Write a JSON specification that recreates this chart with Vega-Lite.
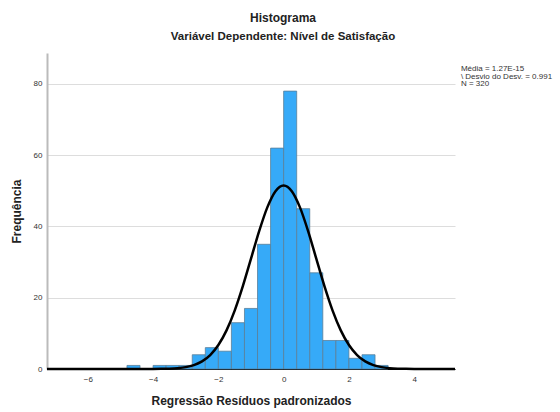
{
  "$schema": "https://vega.github.io/schema/vega-lite/v6.json",
  "width": 408,
  "height": 316,
  "autosize": {"type": "none"},
  "padding": {"left": 47, "top": 53, "right": 105, "bottom": 43},
  "background": "white",
  "title": {
    "text": "Histograma",
    "subtitle": "Variável Dependente: Nível de Satisfação",
    "anchor": "middle",
    "dx": 32,
    "offset": 10,
    "font": "Liberation Sans",
    "fontSize": 12,
    "fontWeight": "bold",
    "color": "#222222",
    "subtitleFont": "Liberation Sans",
    "subtitleFontSize": 11.5,
    "subtitleFontWeight": "bold",
    "subtitleColor": "#222222",
    "subtitlePadding": 6
  },
  "config": {"view": {"stroke": null}},
  "layer": [
    {
      "data": {"values": [
        {"bin_start": -4.8, "bin_end": -4.4, "count": 1},
        {"bin_start": -4.0, "bin_end": -3.6, "count": 1},
        {"bin_start": -3.6, "bin_end": -3.2, "count": 1},
        {"bin_start": -3.2, "bin_end": -2.8, "count": 1},
        {"bin_start": -2.8, "bin_end": -2.4, "count": 4},
        {"bin_start": -2.4, "bin_end": -2.0, "count": 6},
        {"bin_start": -2.0, "bin_end": -1.6, "count": 5},
        {"bin_start": -1.6, "bin_end": -1.2, "count": 13},
        {"bin_start": -1.2, "bin_end": -0.8, "count": 17},
        {"bin_start": -0.8, "bin_end": -0.4, "count": 35},
        {"bin_start": -0.4, "bin_end": 0.0, "count": 62},
        {"bin_start": 0.0, "bin_end": 0.4, "count": 78},
        {"bin_start": 0.4, "bin_end": 0.8, "count": 45},
        {"bin_start": 0.8, "bin_end": 1.2, "count": 27},
        {"bin_start": 1.2, "bin_end": 1.6, "count": 8},
        {"bin_start": 1.6, "bin_end": 2.0, "count": 8},
        {"bin_start": 2.0, "bin_end": 2.4, "count": 3},
        {"bin_start": 2.4, "bin_end": 2.8, "count": 4},
        {"bin_start": 2.8, "bin_end": 3.2, "count": 1}
      ]},
      "mark": {"type": "bar", "fill": "#36aaf8", "stroke": "#5a7f98", "strokeWidth": 0.8},
      "encoding": {
        "x": {
          "field": "bin_start", "type": "quantitative",
          "scale": {"domain": [-7.25, 5.25], "nice": false, "zero": false},
          "axis": {
            "values": [-6, -4, -2, 0, 2, 4],
            "grid": false, "ticks": false,
            "domainColor": "#000000", "domainWidth": 1,
            "labelFont": "Liberation Sans", "labelFontSize": 8, "labelColor": "#333333", "labelPadding": 6,
            "title": "Regressão Resíduos padronizados",
            "titleFont": "Liberation Sans", "titleFontSize": 12, "titleFontWeight": "bold", "titleColor": "#222222",
            "titlePadding": 12
          }
        },
        "x2": {"field": "bin_end"},
        "y": {
          "field": "count", "type": "quantitative",
          "scale": {"domain": [0, 88.7], "nice": false},
          "axis": {
            "values": [0, 20, 40, 60, 80],
            "grid": true, "gridColor": "#dddddd", "gridWidth": 1.2,
            "ticks": false,
            "domainColor": "#bbbbbb", "domainWidth": 2,
            "labelFont": "Liberation Sans", "labelFontSize": 8, "labelColor": "#333333", "labelPadding": 5,
            "title": "Frequência",
            "titleFont": "Liberation Sans", "titleFontSize": 12, "titleFontWeight": "bold", "titleColor": "#222222",
            "titlePadding": 10
          }
        },
        "y2": {"datum": 0}
      }
    },
    {
      "data": {"values": [
        {"x": -7.25, "y": 0},
        {"x": -4.0, "y": 0.015},
        {"x": -3.75, "y": 0.04},
        {"x": -3.5, "y": 0.10},
        {"x": -3.25, "y": 0.24},
        {"x": -3.0, "y": 0.53},
        {"x": -2.75, "y": 1.10},
        {"x": -2.5, "y": 2.14},
        {"x": -2.25, "y": 3.91},
        {"x": -2.0, "y": 6.72},
        {"x": -1.75, "y": 10.84},
        {"x": -1.5, "y": 16.39},
        {"x": -1.25, "y": 23.26},
        {"x": -1.0, "y": 30.97},
        {"x": -0.75, "y": 38.70},
        {"x": -0.5, "y": 45.37},
        {"x": -0.25, "y": 49.92},
        {"x": 0.0, "y": 51.53},
        {"x": 0.25, "y": 49.92},
        {"x": 0.5, "y": 45.37},
        {"x": 0.75, "y": 38.70},
        {"x": 1.0, "y": 30.97},
        {"x": 1.25, "y": 23.26},
        {"x": 1.5, "y": 16.39},
        {"x": 1.75, "y": 10.84},
        {"x": 2.0, "y": 6.72},
        {"x": 2.25, "y": 3.91},
        {"x": 2.5, "y": 2.14},
        {"x": 2.75, "y": 1.10},
        {"x": 3.0, "y": 0.53},
        {"x": 3.25, "y": 0.24},
        {"x": 3.5, "y": 0.10},
        {"x": 3.75, "y": 0.04},
        {"x": 4.0, "y": 0.015},
        {"x": 5.25, "y": 0}
      ]},
      "mark": {"type": "line", "color": "#000000", "strokeWidth": 2.5, "interpolate": "monotone"},
      "encoding": {
        "x": {"field": "x", "type": "quantitative"},
        "y": {"field": "y", "type": "quantitative"}
      }
    },
    {
      "data": {"values": [{"label": "Média = 1.27E-15\n\\ Desvio do Desv. = 0.991\nN = 320"}]},
      "mark": {"type": "text", "align": "left", "baseline": "top", "font": "Liberation Sans", "fontSize": 8, "lineBreak": "\n", "lineHeight": 7.5, "color": "#333333"},
      "encoding": {
        "x": {"datum": 5.43},
        "y": {"datum": 85.3},
        "text": {"field": "label"}
      }
    }
  ]
}
